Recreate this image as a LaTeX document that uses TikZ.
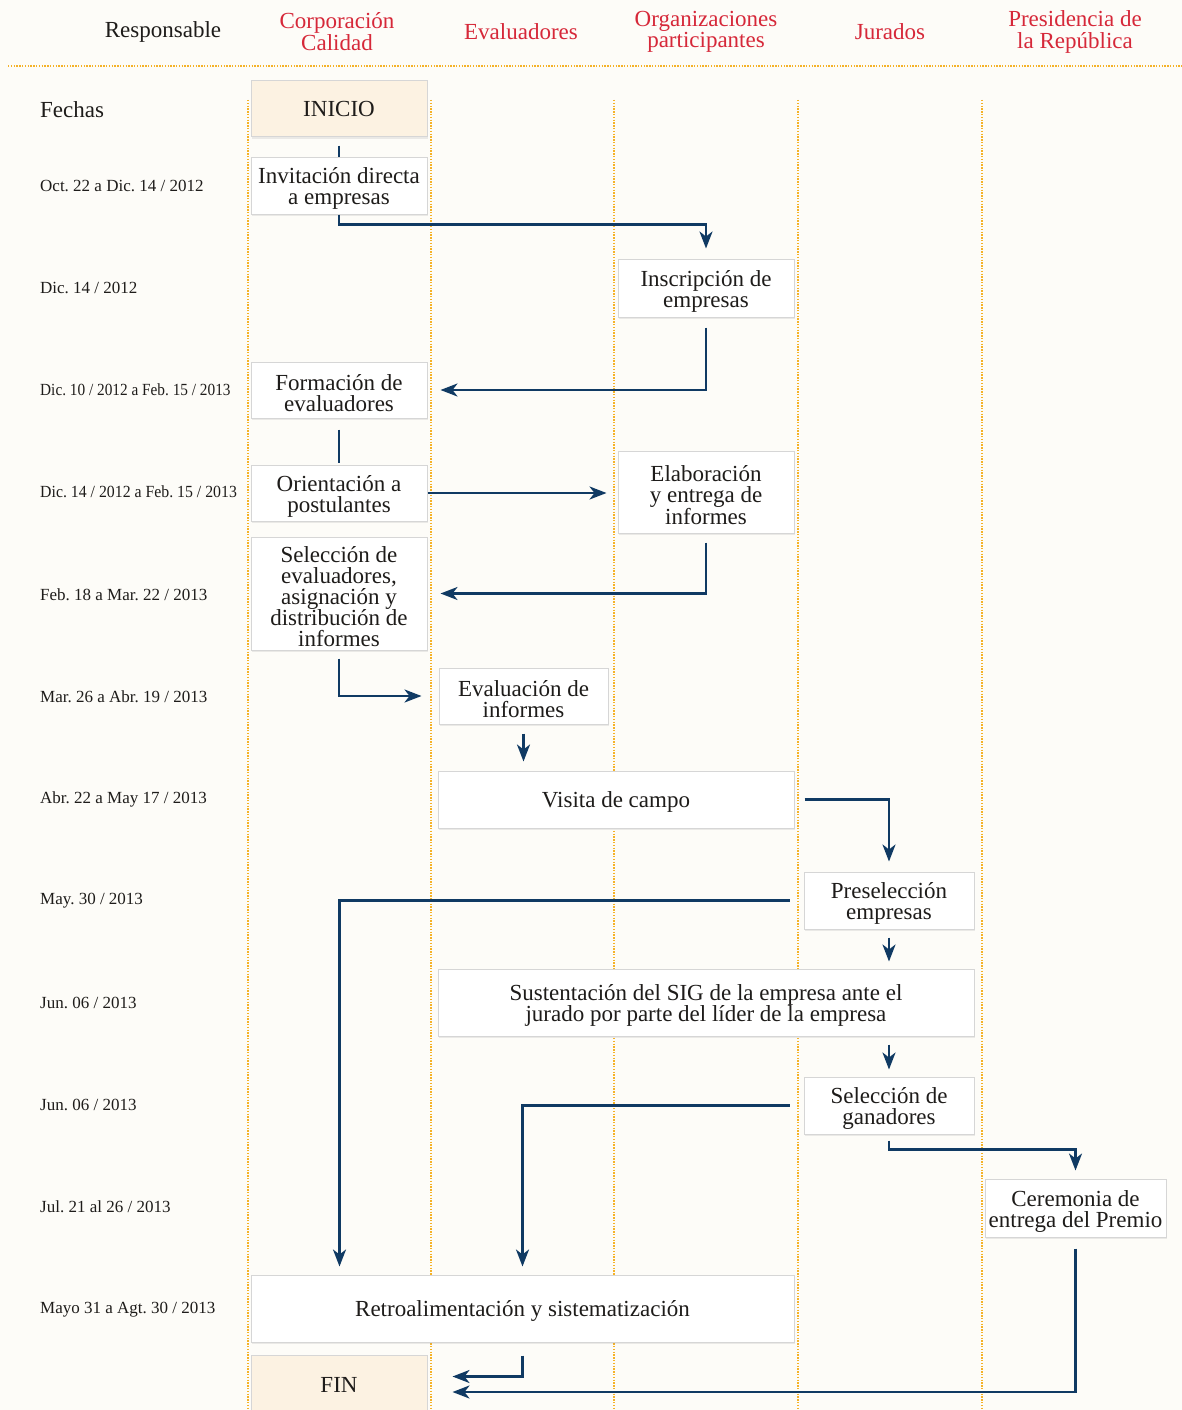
\documentclass[tikz,border=0pt]{standalone}
\usepackage{fontspec}
\setmainfont{Liberation Serif}
\usetikzlibrary{arrows.meta,shadows,calc}
\frenchspacing
\definecolor{bgc}{RGB}{253,252,248}
\definecolor{navy}{RGB}{16,58,99}
\definecolor{hred}{RGB}{214,40,57}
\definecolor{dotc}{RGB}{245,178,40}
\definecolor{txt}{RGB}{30,28,26}
\definecolor{cream}{RGB}{252,242,226}
\newcommand\tstrut{\rule{0pt}{22pt}}
\newcommand\sstrut{\rule{0pt}{20.5pt}}
\tikzset{
  box/.style={draw=black!16, line width=1pt, fill=white, align=center, inner sep=2pt,
    font=\fontsize{23}{21}\selectfont, text=txt,
    drop shadow={opacity=0.15, shadow xshift=1pt, shadow yshift=-1.5pt}},
  endbox/.style={box, fill=cream},
  hdr/.style={align=center, font=\fontsize{23}{20.5}\selectfont, text=hred, inner sep=0pt},
  datel/.style={anchor=west, font=\fontsize{17}{19}\selectfont, text=txt, inner sep=0pt},
  dotline/.style={draw=dotc, line width=1.6pt, dash pattern=on 1.4pt off 1.4pt},
  conn/.style={draw=navy, line width=2.5pt},
  arr/.style={conn, -{Stealth[length=17pt,width=13pt,inset=5pt]}}
}
\begin{document}
\begin{tikzpicture}[x=1pt,y=-1pt]
\fill[bgc] (0,0) rectangle (1182,1410);
\useasboundingbox (0,0) rectangle (1182,1410);

% grid lines
\draw[dotline] (8,66) -- (1182,66);
\foreach \xx in {248,431,614,798,982} \draw[dotline] (\xx,100) -- (\xx,1410);

% headers
\node[hdr, text=txt] (hresp) at (163,32) {Responsable};
\node[hdr] (hcorp) at (337,32) {Corporación\\Calidad};
\node[hdr] (heval) at (521,32) {Evaluadores};
\node[hdr] (horg) at (706,32) {Organizaciones\\participantes};
\node[hdr] (hjur) at (890,32) {Jurados};
\node[hdr, font=\fontsize{23}{21.5}\selectfont] (hpres) at (1075,32) {Presidencia de\\la República};
\node[datel, font=\fontsize{23}{23}\selectfont] (fechas) at (40,110) {Fechas};

% dates
\node[datel] (d1) at (40,186) {Oct. 22 a Dic. 14 / 2012};
\node[datel] (d2) at (40,288) {Dic. 14 / 2012};
\node[datel] (d3) at (40,390) {\scalebox{0.9}[1]{Dic. 10 / 2012 a Feb. 15 / 2013}};
\node[datel] (d4) at (40,492) {\scalebox{0.93}[1]{Dic. 14 / 2012 a Feb. 15 / 2013}};
\node[datel] (d5) at (40,595) {Feb. 18 a Mar. 22 / 2013};
\node[datel] (d6) at (40,697) {Mar. 26 a Abr. 19 / 2013};
\node[datel] (d7) at (40,799) {Abr. 22 a May 17 / 2013};
\node[datel] (d8) at (40,901) {May. 30 / 2013};
\node[datel] (d9) at (40,1003) {Jun. 06 / 2013};
\node[datel] (d10) at (40,1105) {Jun. 06 / 2013};
\node[datel] (d11) at (40,1207) {Jul. 21 al 26 / 2013};
\node[datel] (d12) at (40,1310) {Mayo 31 a Agt. 30 / 2013};

% boxes
\node[endbox, minimum width=176pt, minimum height=56pt] (ini) at (339,109) {INICIO};
\node[box, minimum width=176pt, minimum height=57pt] (inv) at (339,185.5) {\tstrut Invitación directa\\a empresas};
\node[box, minimum width=176pt, minimum height=58pt] (insc) at (706,288) {\tstrut Inscripción de\\empresas};
\node[box, minimum width=176pt, minimum height=56pt] (form) at (339,390) {\tstrut Formación de\\evaluadores};
\node[box, minimum width=176pt, minimum height=56pt] (ori) at (339,493) {\tstrut Orientación a\\postulantes};
\node[box, minimum width=176pt, minimum height=82pt] (elab) at (706,492) {\tstrut Elaboración\\y entrega de\\informes};
\node[box, minimum width=176pt, minimum height=113pt] (sel) at (339,593.5) {\tstrut Selección de\\evaluadores,\\asignación y\\distribución de\\informes};
\node[box, minimum width=169pt, minimum height=56pt] (eval) at (523.5,696) {\tstrut Evaluación de\\informes};
\node[box, minimum width=356pt, minimum height=57pt] (vis) at (616,799.5) {\sstrut Visita de campo};
\node[box, minimum width=170pt, minimum height=57pt] (pres) at (889,900.5) {\tstrut Preselección\\empresas};
\node[box, minimum width=536pt, minimum height=67pt] (sust) at (706,1002.5) {\tstrut Sustentación del SIG de la empresa ante el\\jurado por parte del líder de la empresa};
\node[box, minimum width=170pt, minimum height=57pt] (selg) at (889,1105.5) {\tstrut Selección de\\ganadores};
\node[box, minimum width=181pt, minimum height=58pt] (cer) at (1075.5,1208) {\tstrut Ceremonia de\\entrega del Premio};
\node[box, minimum width=543pt, minimum height=67pt] (retro) at (522.5,1308.5) {\sstrut Retroalimentación y sistematización};
\node[endbox, minimum width=176pt, minimum height=59pt] (fin) at (339,1384.5) {FIN};

% connectors
\draw[conn, shorten <=8pt] (ini.south) -- (inv.north);
\draw[arr, shorten >=10pt] (inv.south) -- ++(0,10) -| (insc.north);
\draw[arr, shorten <=10pt, shorten >=13pt] (insc.south) |- (form.east);
\draw[conn, shorten <=11pt, shorten >=2pt] (form.south) -- (ori.north);
\draw[arr, shorten >=11pt] (ori.east) -- (ori.east -| elab.west);
\draw[arr, shorten <=9pt, shorten >=13pt] (elab.south) |- (sel.east);
\draw[arr, shorten <=8pt, shorten >=17pt] (sel.south) |- (eval.west);
\draw[arr, shorten <=9pt, shorten >=9pt] (eval.south) -- (eval.south |- vis.north);
\draw[arr, shorten <=10pt, shorten >=10pt] (vis.east) -| (pres.north);
\coordinate (r1) at ([xshift=89pt]retro.north west);
\coordinate (r2) at ([xshift=272pt]retro.north west);
\draw[arr, shorten <=14pt, shorten >=8pt] (pres.west) -| (r1);
\draw[arr, shorten <=8pt, shorten >=7pt] (pres.south) -- (pres.south |- sust.north);
\draw[arr, shorten <=8pt, shorten >=7pt] (sust.south -| selg.south) -- (selg.north);
\draw[arr, shorten <=14pt, shorten >=8pt] (selg.west) -| (r2);
\draw[arr, shorten >=8pt] ([yshift=-6pt]selg.south) -- ++(0,9) -| (cer.north);
\coordinate (f1) at ([yshift=8pt]fin.east);
\coordinate (f2) at ([yshift=-7.5pt]fin.east);
\draw[arr, shorten <=13pt, shorten >=25pt] (retro.south) |- (f1);
\draw[arr, shorten <=11pt, shorten >=25pt] (cer.south) |- (f2);
\end{tikzpicture}
\end{document}
